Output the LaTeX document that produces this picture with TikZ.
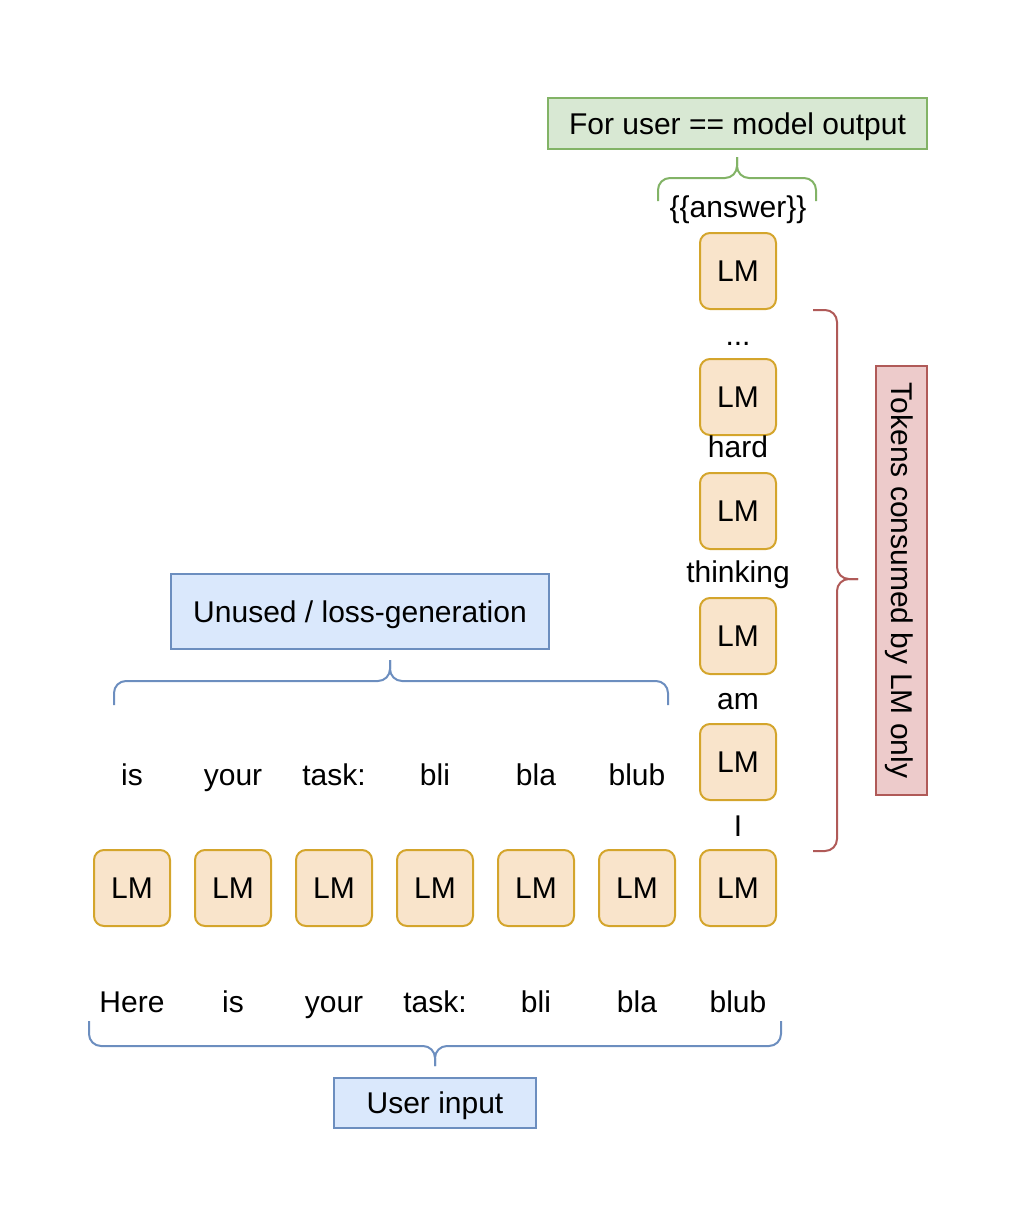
\documentclass[tikz,border=0pt]{standalone}
\usepackage{fontspec}
\setmainfont{Liberation Sans}
\definecolor{lmfill}{HTML}{F9E4CB}
\definecolor{lmdraw}{HTML}{D4A52C}
\definecolor{bluefill}{HTML}{DAE8FC}
\definecolor{bluedraw}{HTML}{6C8EBF}
\definecolor{greenfill}{HTML}{D8E8D3}
\definecolor{greendraw}{HTML}{82B366}
\definecolor{redfill}{HTML}{EDCBCB}
\definecolor{reddraw}{HTML}{B05A58}
\tikzset{
  lm/.style={draw=lmdraw, fill=lmfill, line width=1pt, rounded corners=5pt,
    minimum width=38pt, minimum height=38pt, inner sep=0pt},
  word/.style={anchor=base, inner sep=0pt},
  tag/.style={line width=1pt, inner sep=0pt, text height=10.5pt, text depth=0pt},
  brace/.style={line width=1pt, rounded corners=6pt},
}
\begin{document}
\begin{tikzpicture}[x=0.5pt, y=-0.5pt, font=\fontsize{15}{18}\selectfont]
  \useasboundingbox (0,0) rectangle (1011,1232);
  % prompt row
  \foreach \w [count=\i] in {Here,is,your,task:,bli,bla,blub} {
    \node[lm] (lm-\i) at ({31+101*\i},888) {LM};
    \node[word] (in-\i) at ({31+101*\i},1012) {\w};
  }
  \foreach \w [count=\i] in {is,your,task:,bli,bla,blub}
    \node[word] (out-\i) at ({31+101*\i},785) {\w};
  % generated column
  \node[lm] (gen-1) at (738,762) {LM};
  \node[lm] (gen-2) at (738,636) {LM};
  \node[lm] (gen-3) at (738,511) {LM};
  \node[lm] (gen-4) at (738,397) {LM};
  \node[lm] (gen-5) at (738,271) {LM};
  \node[word] (tok-1) at (738,836) {I};
  \node[word] (tok-2) at (738,709) {am};
  \node[word] (tok-3) at (738,582) {thinking};
  \node[word] (tok-4) at (738,457) {hard};
  \node[word] (tok-5) at (738,345) {...};
  \node[word] (tok-6) at (738,217) {\{\{answer\}\}};
  % boxes
  \node[tag, draw=greendraw, fill=greenfill, minimum width=189.5pt, minimum height=25.5pt]
    (output) at (737.5,123.5) {For user == model output};
  \node[tag, draw=bluedraw, fill=bluefill, minimum width=189pt, minimum height=37.5pt]
    (unused) at (360,611.5) {Unused / loss-generation};
  \node[tag, draw=bluedraw, fill=bluefill, minimum width=101pt, minimum height=25pt]
    (user) at (435,1103) {User input};
  \node[tag, draw=reddraw, fill=redfill, rotate=-90, minimum width=214.5pt, minimum height=25.5pt]
    (consumed) at (901.5,580.5) {Tokens consumed by LM only};
  % braces
  \coordinate (ub-tip) at (435,1066);
  \draw[brace, bluedraw] (89,1021) -- (89,1046) -- (435,1046) -- (ub-tip);
  \draw[brace, bluedraw] (781,1021) -- (781,1046) -- (435,1046) -- (ub-tip);
  \coordinate (lb-tip) at (390,660);
  \draw[brace, bluedraw] (114,705) -- (114,681) -- (390,681) -- (lb-tip);
  \draw[brace, bluedraw] (668,705) -- (668,681) -- (390,681) -- (lb-tip);
  \coordinate (gb-tip) at (737,157);
  \draw[brace, greendraw] (658,201) -- (658,178) -- (737,178) -- (gb-tip);
  \draw[brace, greendraw] (816,201) -- (816,178) -- (737,178) -- (gb-tip);
  \coordinate (rb-tip) at (858,579);
  \draw[brace, reddraw] (813,310) -- (837,310) -- (837,579) -- (rb-tip);
  \draw[brace, reddraw] (813,851) -- (837,851) -- (837,579) -- (rb-tip);
\end{tikzpicture}
\end{document}
